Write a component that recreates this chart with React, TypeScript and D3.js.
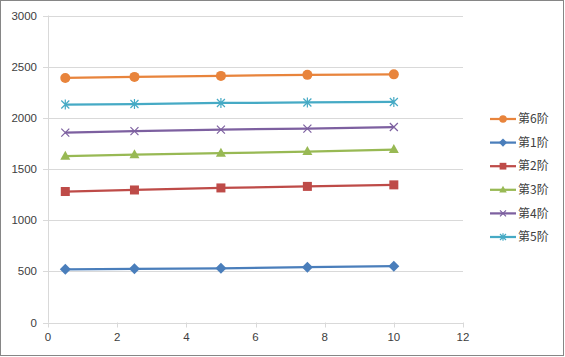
import React from "react";
import * as d3 from "d3";

const xValues = [0.5, 2.5, 5, 7.5, 10];
const seriesNames = ["第1阶", "第2阶", "第3阶", "第4阶", "第5阶", "第6阶"];
const s1 = [520, 525, 530, 540, 550];
const s2 = [1280, 1295, 1315, 1330, 1345];
const s3 = [1625, 1640, 1655, 1670, 1690];
const s4 = [1855, 1870, 1885, 1895, 1910];
const s5 = [2130, 2135, 2145, 2150, 2155];
const s6 = [2390, 2400, 2410, 2420, 2425];
const seriesValues = [s1, s2, s3, s4, s5, s6];
const colors = ["#4A7EBB", "#BE4B48", "#98B954", "#7D60A0", "#46AAC5", "#E8843C"];
const markers = ["diamond", "square", "triangle", "x", "star", "circle"];
const legendOrder = [5, 0, 1, 2, 3, 4];
const xTicks = [0, 2, 4, 6, 8, 10, 12];
const yTicks = [0, 500, 1000, 1500, 2000, 2500, 3000];

const W = 565, H = 357;
const L = 48, R = 463, T = 15.5, B = 322.5;

function Marker({ type, x, y, color, s = 1 }: any) {
  const k = s;
  switch (type) {
    case "diamond":
      return <path d={`M${x},${y - 5.5 * k}L${x + 5.5 * k},${y}L${x},${y + 5.5 * k}L${x - 5.5 * k},${y}Z`} fill={color} />;
    case "square":
      return <rect x={x - 4.5 * k} y={y - 4.5 * k} width={9 * k} height={9 * k} fill={color} />;
    case "triangle":
      return <path d={`M${x},${y - 5.5 * k}L${x + 5 * k},${y + 3.5 * k}L${x - 5 * k},${y + 3.5 * k}Z`} fill={color} />;
    case "x":
      return <path d={`M${x - 4 * k},${y - 4 * k}L${x + 4 * k},${y + 4 * k}M${x + 4 * k},${y - 4 * k}L${x - 4 * k},${y + 4 * k}`} stroke={color} strokeWidth={1.2} fill="none" />;
    case "star":
      return <path d={`M${x - 4 * k},${y - 4 * k}L${x + 4 * k},${y + 4 * k}M${x + 4 * k},${y - 4 * k}L${x - 4 * k},${y + 4 * k}M${x},${y - 5 * k}L${x},${y + 5 * k}`} stroke={color} strokeWidth={1.2} fill="none" />;
    default:
      return <circle cx={x} cy={y} r={5 * k} fill={color} />;
  }
}

export default function App() {
  const xs = d3.scaleLinear().domain([0, 12]).range([L, R]);
  const ys = d3.scaleLinear().domain([0, 3000]).range([B, T]);
  const line = d3.line<number>().x((_, i) => xs(xValues[i])).y((d) => ys(d));
  const font = "'Liberation Sans', 'Noto Sans CJK SC', sans-serif";
  return (
    <div style={{ position: "fixed", left: 0, top: 0 }}>
      <svg width={W} height={H} style={{ display: "block" }} fontFamily={font}>
        <rect x={0} y={0} width={W} height={H} fill="#fff" />
        <rect x={0.5} y={0.5} width={W - 2} height={H - 2} fill="none" stroke="#868686" strokeWidth={1} />
        {yTicks.map((t) => (
          <g key={t}>
            <line x1={L - 5} x2={R} y1={Math.round(ys(t)) + 0.5} y2={Math.round(ys(t)) + 0.5} stroke="#D9D9D9" strokeWidth={1} />
            <text x={L - 11} y={ys(t)} dy="0.35em" textAnchor="end" fontSize={11.5} fill="#404040">{t}</text>
          </g>
        ))}
        <line x1={L + 0.5} x2={L + 0.5} y1={T} y2={B} stroke="#D9D9D9" />
        <line x1={L} x2={R} y1={Math.round(B) + 0.5} y2={Math.round(B) + 0.5} stroke="#D9D9D9" />
        {xTicks.map((t) => (
          <g key={t}>
            <line x1={Math.round(xs(t)) + 0.5} x2={Math.round(xs(t)) + 0.5} y1={B} y2={B + 5} stroke="#D9D9D9" />
            <text x={xs(t)} y={B + 18} textAnchor="middle" fontSize={11.5} fill="#404040">{t}</text>
          </g>
        ))}
        {seriesValues.map((vals, si) => (
          <g key={si}>
            <path d={line(vals) || ""} fill="none" stroke={colors[si]} strokeWidth={2.25} />
            {vals.map((v, i) => (
              <Marker key={i} type={markers[si]} x={xs(xValues[i])} y={ys(v)} color={colors[si]} />
            ))}
          </g>
        ))}
        {legendOrder.map((si, k) => {
          const y = 119 + k * 23.6;
          return (
            <g key={si}>
              <line x1={490} x2={516} y1={y} y2={y} stroke={colors[si]} strokeWidth={2.25} />
              <Marker type={markers[si]} x={503} y={y} color={colors[si]} s={0.75} />
              <text x={518} y={y} dy="0.35em" fontSize={12} fill="#404040" fontFamily="'Noto Sans CJK SC', sans-serif">{seriesNames[si]}</text>
            </g>
          );
        })}
      </svg>
    </div>
  );
}
